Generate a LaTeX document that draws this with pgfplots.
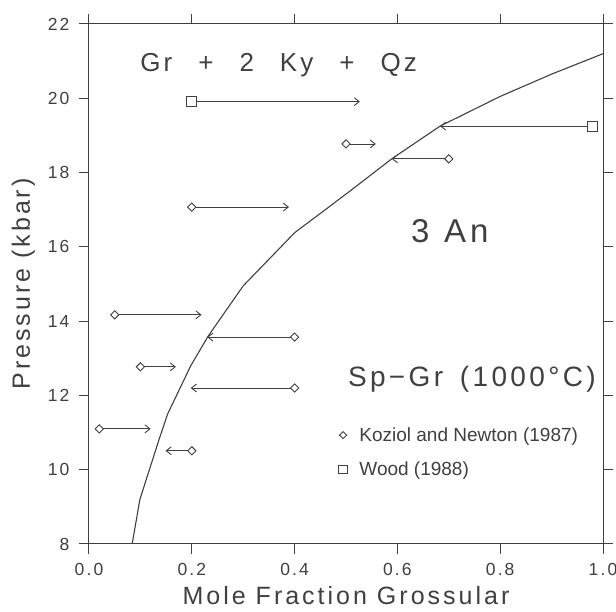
\documentclass[border=0pt]{standalone}
\usepackage{pgfplots}
\pgfplotsset{compat=1.18}
\usepackage{fontspec}
\setmainfont{Liberation Sans}
\newfontfamily\widefont{Liberation Sans}[LetterSpace=12]
\usetikzlibrary{arrows.meta}
\definecolor{ink}{gray}{0.25}

\begin{document}
\begin{tikzpicture}
\path[use as bounding box] (-89pt,-68pt) rectangle (527pt,544pt);
\begin{axis}[
  scale only axis, width=514pt, height=520pt,
  xmin=0, xmax=1, ymin=8, ymax=22,
  xtick={0,0.2,...,1}, ytick={8,10,...,22},
  tick align=outside, major tick length=10pt,
  axis line style={ink, line width=1pt},
  tick style={ink, line width=1pt},
  /pgf/number format/assume math mode=true,
  ticklabel style={font=\widefont\fontsize{17.5}{17.5}\selectfont, text=ink},
  xticklabel style={/pgf/number format/.cd, fixed, fixed zerofill, precision=1},
  xticklabel shift=6pt, yticklabel shift=6pt,
  xlabel={Mole Fraction Grossular},
  ylabel={Pressure (kbar)},
  xlabel shift=4pt, ylabel shift=6pt,
  label style={font=\widefont\fontsize{25}{25}\selectfont, text=ink},
  legend style={draw=none, fill=none, at={(axis cs:0.48,11.25)}, anchor=north west,
    font=\fontsize{19}{19}\selectfont, text=ink, row sep=15pt, column sep=10pt},
  legend cell align=left,
  legend image code/.code={\path (-4pt,0pt) -- (4pt,0pt);
    \draw[#1, every mark/.append style={scale=0.85}] plot coordinates {(0pt,0pt)};},
]
% boundary curve
\addplot[ink, line width=1.1pt, forget plot] coordinates {
  (0.084,8.0) (0.099,9.2) (0.136,10.8) (0.153,11.5) (0.198,12.8)
  (0.232,13.6) (0.30,14.95) (0.40,16.38) (0.50,17.42) (0.59,18.38)
  (0.683,19.25) (0.80,20.05) (0.90,20.65) (1.0,21.2)};
% reversal arrows
\pgfplotsset{rev/.style={ink, line width=0.9pt, forget plot,
  -{Straight Barb[length=5pt, width=8pt]}}}
\addplot[rev] coordinates {(0.2,19.91) (0.527,19.91)};
\addplot[rev] coordinates {(0.979,19.25) (0.683,19.25)};
\addplot[rev] coordinates {(0.5,18.77) (0.558,18.77)};
\addplot[rev] coordinates {(0.7,18.37) (0.589,18.37)};
\addplot[rev] coordinates {(0.2,17.07) (0.389,17.07)};
\addplot[rev] coordinates {(0.05,14.17) (0.219,14.17)};
\addplot[rev] coordinates {(0.4,13.57) (0.23,13.57)};
\addplot[rev] coordinates {(0.1,12.77) (0.169,12.77)};
\addplot[rev] coordinates {(0.4,12.2) (0.198,12.2)};
\addplot[rev] coordinates {(0.02,11.1) (0.12,11.1)};
\addplot[rev] coordinates {(0.2,10.51) (0.149,10.51)};
% experiments
\addplot[only marks, mark=square*, mark size=2.9pt,
  mark options={fill=white, draw=ink, line width=0.9pt, rotate=45}] coordinates {
  (0.5,18.77) (0.7,18.37) (0.2,17.07) (0.05,14.17) (0.4,13.57)
  (0.1,12.77) (0.4,12.2) (0.02,11.1) (0.2,10.51)};
\addlegendentry{Koziol and Newton (1987)}
\addplot[only marks, mark=square*, mark size=5pt,
  mark options={fill=white, draw=ink, line width=0.9pt}] coordinates {
  (0.2,19.91) (0.979,19.25)};
\addlegendentry{Wood (1988)}
% field labels
\node[font=\widefont\fontsize{26}{26}\selectfont, text=ink, anchor=base]
  at (axis cs:0.369,20.71) {Gr\quad+\quad2\quad Ky\quad+\quad Qz};
\node[font=\widefont\fontsize{33}{33}\selectfont, text=ink, anchor=base]
  at (axis cs:0.702,16.13) {3\hspace{0.45em}An};
\node[font=\widefont\fontsize{28}{28}\selectfont, text=ink, anchor=base]
  at (axis cs:0.745,12.23) {Sp−Gr\hspace{0.6em}(1000°C)};
\end{axis}
\end{tikzpicture}
\end{document}
